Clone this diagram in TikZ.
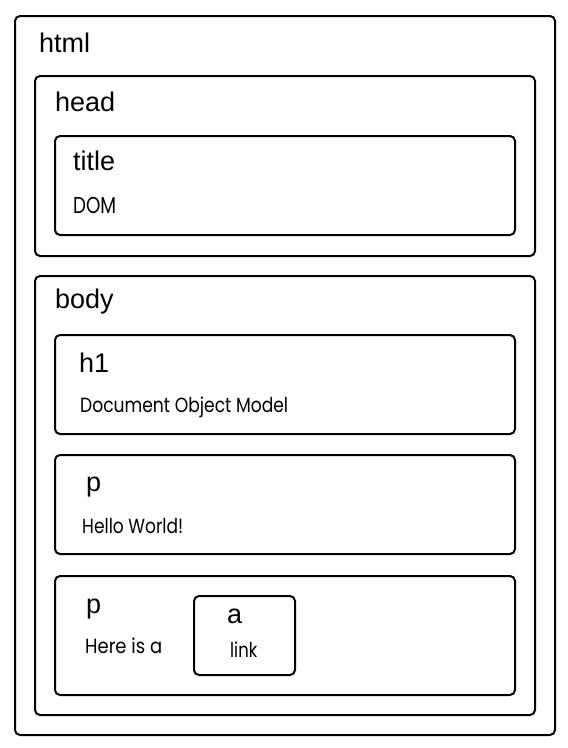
\documentclass[tikz,border=0pt]{standalone}
\usepackage{fontspec}
\usepackage{graphicx}
\setmainfont{Liberation Sans}
\newfontfamily\handfont{Poppins}
\newcommand{\hw}[3]{{\handfont\fontsize{#1}{#1}\selectfont\resizebox{#2}{\height}{#3}}}
\tikzset{
  x=1pt, y=-1pt,
  box/.style={draw=black, line width=2pt, rounded corners=5pt, inner sep=0pt, anchor=north west},
  tag/.style={anchor=base west, inner sep=0pt, font=\fontsize{27}{30}\selectfont},
  txt/.style={anchor=base west, inner sep=0pt}
}
\begin{document}
\begin{tikzpicture}
\useasboundingbox (0,0) rectangle (568,748);
% boxes
\node[box, minimum width=540pt, minimum height=719pt] (html) at (14,15) {};
\node[box, minimum width=500pt, minimum height=180pt] (head) at (34,75) {};
\node[box, minimum width=460pt, minimum height=99pt] (title) at (54,135) {};
\node[box, minimum width=500pt, minimum height=439pt] (body) at (34,275) {};
\node[box, minimum width=460pt, minimum height=99pt] (h1) at (54,334) {};
\node[box, minimum width=460pt, minimum height=99pt] (p1) at (54,454) {};
\node[box, minimum width=460pt, minimum height=119pt] (p2) at (54,575) {};
\node[box, minimum width=101pt, minimum height=79pt] (a) at (193,595) {};
% tag labels
\node[tag] (lhtml) at (39,52) {html};
\node[tag] (lhead) at (55,111) {head};
\node[tag] (ltitle) at (73,170) {title};
\node[tag] (lbody) at (55,308) {body};
\node[tag] (lh1) at (79,372) {h1};
\node[tag] (lp1) at (86,491) {p};
\node[tag] (lp2) at (86,613) {p};
\node[tag] (la) at (227,623) {a};
% contents
\node[txt] (tdom) at (73,213) {\hw{23}{43pt}{DOM}};
\node[txt] (th1) at (80,412) {\hw{20.5}{208pt}{Document Object Model}};
\node[txt] (tp1) at (82,533) {\hw{20.5}{101pt}{Hello World!}};
\node[txt] (tp2) at (85,653) {\hw{20.5}{77pt}{Here is a}};
\node[txt] (tlink) at (230,657) {\hw{20.5}{27pt}{link}};
\end{tikzpicture}
\end{document}
